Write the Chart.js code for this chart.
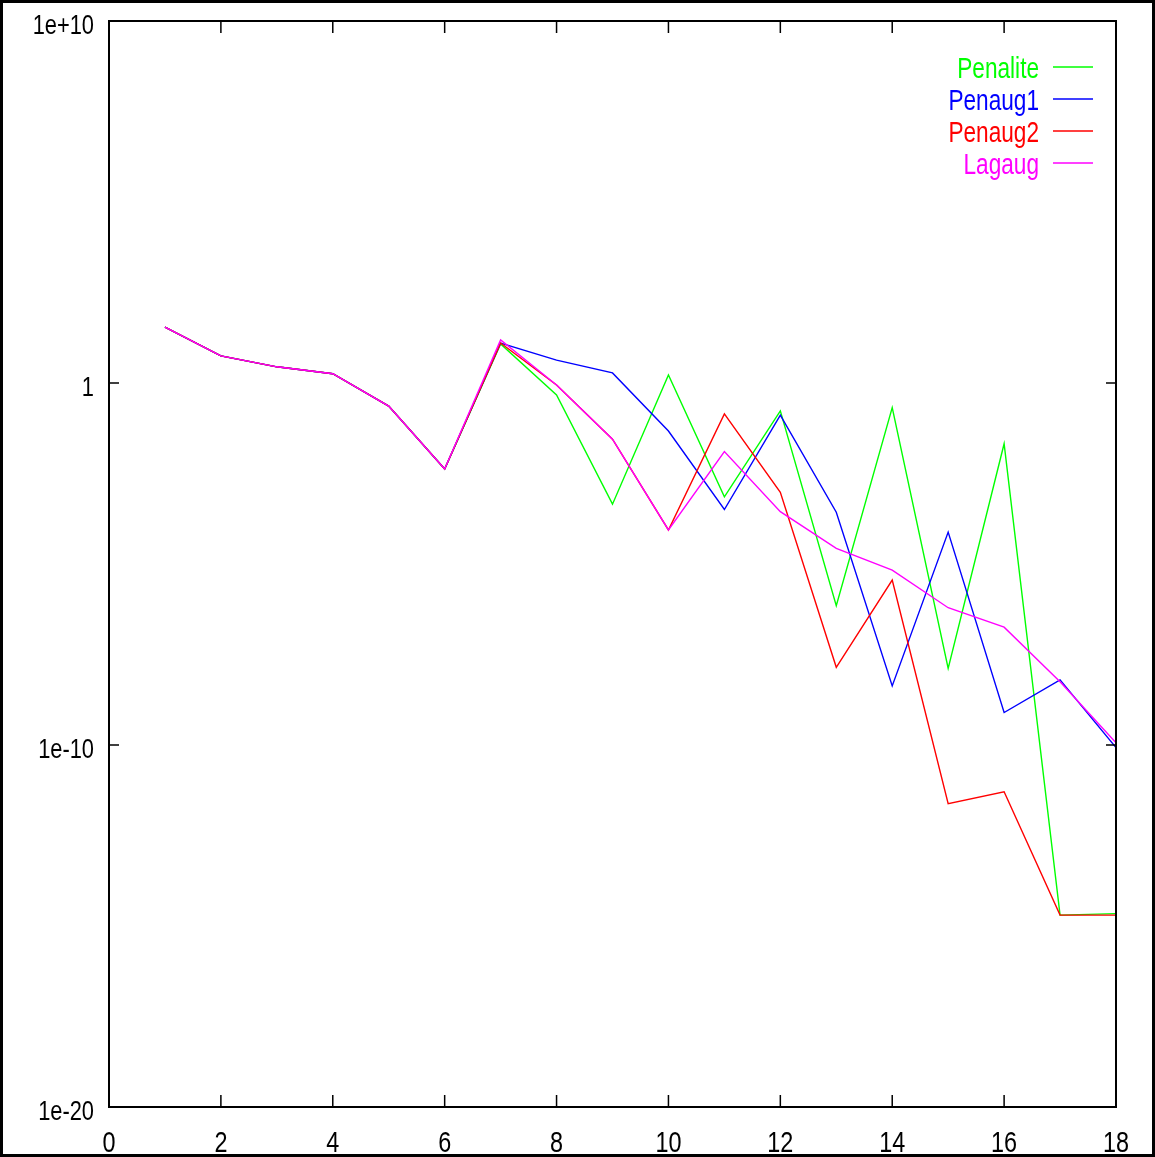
<!DOCTYPE html>
<html>
<head>
<meta charset="utf-8">
<script src="https://cdn.jsdelivr.net/npm/chart.js@4/dist/chart.umd.min.js"></script>
<style>
  body { margin: 0; background: #fff; }
  canvas { display: block; }
</style>
</head>
<body>
<canvas id="chart" width="1155" height="1157"></canvas>
<script>
const iterations = [1, 2, 3, 4, 5, 6, 7, 8, 9, 10, 11, 12, 13, 14, 15, 16, 17, 18];
const penalite = [35, 5.6, 2.8, 1.8, 0.23, 4.2e-3, 12, 0.47, 4.5e-4, 1.66, 7.2e-4, 0.17, 7e-7, 0.21, 1.3e-8, 0.021, 2e-15, 2.2e-15];
const penaug1 = [35, 5.6, 2.8, 1.8, 0.23, 4.2e-3, 12.7, 4.3, 1.9, 0.047, 3.2e-4, 0.13, 2.7e-4, 4.3e-9, 7.6e-5, 7.9e-10, 6.3e-9, 8.5e-11];
const penaug2 = [35, 5.6, 2.8, 1.8, 0.23, 4.2e-3, 12.7, 0.88, 0.028, 8.7e-5, 0.14, 9.5e-4, 1.4e-8, 3.6e-6, 2.4e-12, 5.1e-12, 2e-15, 2e-15];
const lagaug = [35, 5.6, 2.8, 1.8, 0.23, 4.2e-3, 15.5, 0.88, 0.028, 8.7e-5, 0.0127, 2.8e-4, 2.7e-5, 6.8e-6, 6.2e-7, 1.8e-7, 5.6e-9, 1.15e-10];
const xTicks = [0, 2, 4, 6, 8, 10, 12, 14, 16, 18];
const yTicks = [1e-20, 1e-10, 1, 1e10];
const yTickLabels = ['1e-20', '1e-10', '1', '1e+10'];

const fontFamily = '"Liberation Sans", Arial, sans-serif';
const squeeze = 0.78; // gnuplot's narrow helvetica

function points(values) {
  return values.map((v, i) => ({ x: iterations[i], y: v }));
}

function series(label, values, color, order) {
  return {
    label: label,
    data: points(values),
    borderColor: color,
    backgroundColor: color,
    borderWidth: 1.4,
    pointRadius: 0,
    tension: 0,
    order: order
  };
}

function narrowText(ctx, text, x, y, size, align, color) {
  ctx.save();
  ctx.translate(x, y);
  ctx.scale(squeeze, 1);
  ctx.font = size + 'px ' + fontFamily;
  ctx.textAlign = align;
  ctx.textBaseline = 'alphabetic';
  ctx.fillStyle = color;
  ctx.fillText(text, 0, 0);
  ctx.restore();
}

// frame, inward ticks, tick labels and the gnuplot style legend
const gnuplotFrame = {
  id: 'gnuplotFrame',
  afterDraw(chart) {
    const ctx = chart.ctx;
    const a = chart.chartArea;
    const xs = chart.scales.x;
    const ys = chart.scales.y;
    ctx.save();
    ctx.strokeStyle = '#000';
    ctx.lineWidth = 3;
    ctx.strokeRect(1.5, 1.5, chart.width - 3, chart.height - 3);

    ctx.lineWidth = 2;
    ctx.strokeRect(a.left, a.top, a.right - a.left, a.bottom - a.top);

    ctx.lineWidth = 1.5;
    ctx.beginPath();
    xTicks.forEach(v => {
      const px = xs.getPixelForValue(v);
      ctx.moveTo(px, a.bottom); ctx.lineTo(px, a.bottom - 12);
      ctx.moveTo(px, a.top); ctx.lineTo(px, a.top + 12);
    });
    yTicks.forEach(v => {
      const py = ys.getPixelForValue(v);
      ctx.moveTo(a.left, py); ctx.lineTo(a.left + 10, py);
      ctx.moveTo(a.right, py); ctx.lineTo(a.right - 10, py);
    });
    ctx.stroke();

    xTicks.forEach(v => {
      narrowText(ctx, String(v), xs.getPixelForValue(v), a.bottom + 45, 30, 'center', '#000');
    });
    yTicks.forEach((v, i) => {
      narrowText(ctx, yTickLabels[i], a.left - 15, ys.getPixelForValue(v) + 13, 28, 'right', '#000');
    });

    chart.data.datasets.forEach((ds, i) => {
      const y = 67 + i * 32;
      narrowText(ctx, ds.label, 1039, y + 11, 29, 'right', ds.borderColor);
      ctx.strokeStyle = ds.borderColor;
      ctx.lineWidth = 1.4;
      ctx.beginPath();
      ctx.moveTo(1053, y);
      ctx.lineTo(1093, y);
      ctx.stroke();
    });
    ctx.restore();
  }
};

new Chart(document.getElementById('chart').getContext('2d'), {
  type: 'line',
  data: {
    datasets: [
      series('Penalite', penalite, '#00ff00', 3),
      series('Penaug1', penaug1, '#0000ff', 2),
      series('Penaug2', penaug2, '#ff0000', 1),
      series('Lagaug', lagaug, '#ff00ff', 0)
    ]
  },
  options: {
    responsive: false,
    animation: false,
    layout: { padding: { left: 0, right: 39, top: 21, bottom: 0 } },
    plugins: {
      legend: { display: false },
      tooltip: { enabled: false }
    },
    scales: {
      x: {
        type: 'linear',
        min: 0,
        max: 18,
        grid: { display: false, drawTicks: false },
        border: { display: false },
        ticks: { display: false, stepSize: 2 },
        afterFit(scale) { scale.height = 50; }
      },
      y: {
        type: 'logarithmic',
        min: 1e-20,
        max: 1e10,
        grid: { display: false, drawTicks: false },
        border: { display: false },
        afterBuildTicks(scale) {
          scale.ticks = yTicks.map(v => ({ value: v }));
        },
        ticks: { display: false },
        afterFit(scale) { scale.width = 109; }
      }
    }
  },
  plugins: [gnuplotFrame]
});
</script>
</body>
</html>
